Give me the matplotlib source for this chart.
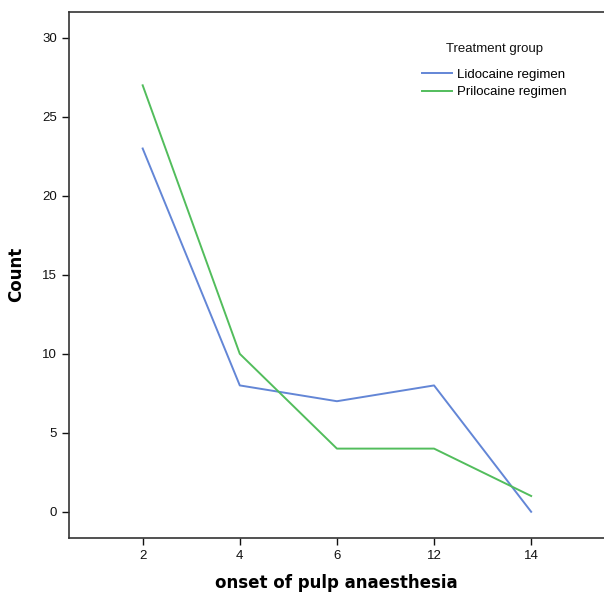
import matplotlib
matplotlib.use("Agg")
import matplotlib.pyplot as plt
import numpy as np

categories = ["2", "4", "6", "12", "14"]
lidocaine = [23, 8, 7, 8, 0]
prilocaine = [27, 10, 4, 4, 1]
series_names = ["Lidocaine regimen", "Prilocaine regimen"]

plt.rcParams["font.family"] = ["Liberation Sans", "DejaVu Sans"]

fig = plt.figure(figsize=(6.04, 5.93), dpi=100)
ax = fig.add_axes([0.114, 0.093, 0.886, 0.887])

x = np.arange(1, len(categories) + 1)
ax.plot(x, lidocaine, color="#6386d6", lw=1.4, label=series_names[0])
ax.plot(x, prilocaine, color="#52bd5c", lw=1.4, label=series_names[1])

ax.set_xlim(0.24, 5.75)
ax.set_ylim(-1.65, 31.65)
ax.set_xticks(x)
ax.set_xticklabels(categories)
ax.set_yticks([0, 5, 10, 15, 20, 25, 30])
ax.tick_params(labelsize=9.5, length=5, width=1, colors="#111111")

for s in ["left", "bottom", "top"]:
    ax.spines[s].set_color("#333333")
    ax.spines[s].set_linewidth(1.2)
ax.spines["right"].set_visible(False)

ax.set_ylabel("Count", fontsize=12, fontweight="bold", family="DejaVu Sans", labelpad=12)
ax.set_xlabel("onset of pulp anaesthesia", fontsize=12, fontweight="bold",
              family="DejaVu Sans", labelpad=9)

# legend title placed separately to get the wider gap seen in the original
ax.text(0.796, 0.929, "Treatment group", transform=ax.transAxes,
        ha="center", va="center", fontsize=9.5, color="#111111")
leg = ax.legend(frameon=False, fontsize=9.5, loc="upper left",
                bbox_to_anchor=(0.66, 0.892), borderaxespad=0, borderpad=0,
                handlelength=2.3, handletextpad=0.35, labelspacing=0.4)

fig.savefig("out.png", dpi=100)
